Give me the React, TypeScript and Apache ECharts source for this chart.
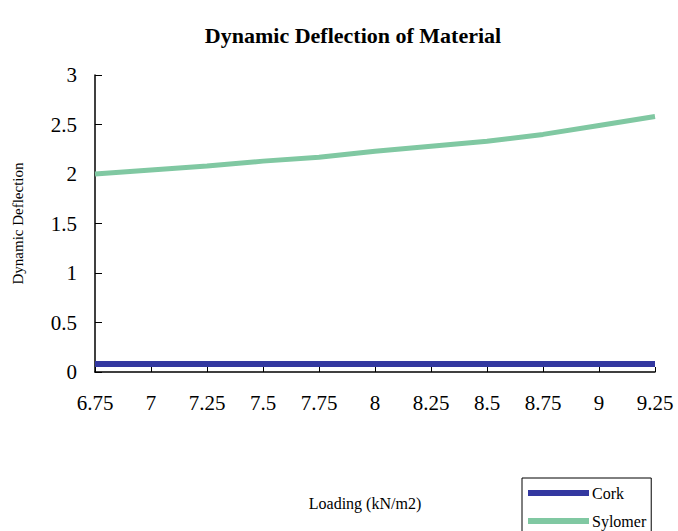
import React, { useEffect, useRef } from "react";
import * as echarts from "echarts";

const categories = ["6.75", "7", "7.25", "7.5", "7.75", "8", "8.25", "8.5", "8.75", "9", "9.25"];
const corkValues = [0.08, 0.08, 0.08, 0.08, 0.08, 0.08, 0.08, 0.08, 0.08, 0.08, 0.08];
const sylomerValues = [2.0, 2.04, 2.08, 2.13, 2.17, 2.23, 2.28, 2.33, 2.4, 2.49, 2.58];

const FONT = "'Liberation Serif', 'DejaVu Serif', serif";

export default function App() {
  const ref = useRef<HTMLDivElement>(null);
  useEffect(() => {
    if (!ref.current) return;
    const chart = echarts.init(ref.current, undefined, { renderer: "svg" });
    chart.setOption({
      animation: false,
      backgroundColor: "#ffffff",
      textStyle: { fontFamily: FONT },
      title: {
        text: "Dynamic Deflection of Material",
        left: 348,
        textAlign: "center",
        top: 19,
        textStyle: { fontFamily: FONT, fontSize: 22, fontWeight: "bold", color: "#000" },
      },
      grid: { left: 95, right: 23, top: 75, bottom: 159, containLabel: false },
      legend: {
        orient: "vertical",
        left: 522,
        top: 478,
        width: 130,
        height: 60,
        padding: [7, 5, 8, 6],
        itemGap: 12,
        itemWidth: 61,
        itemHeight: 6,
        borderColor: "#000",
        borderWidth: 1,
        icon: "rect",
        textStyle: { fontFamily: FONT, fontSize: 16, color: "#000", padding: [0, 0, 0, -2] },
        data: ["Cork", "Sylomer"],
      },
      xAxis: {
        type: "category",
        data: categories,
        boundaryGap: false,
        name: "Loading (kN/m2)",
        nameLocation: "middle",
        nameGap: 123,
        nameTextStyle: { fontFamily: FONT, fontSize: 16, color: "#000", padding: [0, 20, 0, 0] },
        axisLine: { lineStyle: { color: "#000", width: 1.5 } },
        axisTick: { inside: true, length: 5, alignWithLabel: true, lineStyle: { color: "#000" } },
        axisLabel: { fontFamily: FONT, fontSize: 21, color: "#000", margin: 20 },
        splitLine: { show: false },
      },
      yAxis: {
        type: "value",
        min: 0,
        max: 3,
        interval: 0.5,
        name: "Dynamic Deflection",
        nameLocation: "middle",
        nameGap: 70,
        nameRotate: 90,
        nameTextStyle: { fontFamily: FONT, fontSize: 15, color: "#000" },
        axisLine: { show: true, lineStyle: { color: "#000", width: 1.5 } },
        axisTick: { show: true, inside: true, length: 7, lineStyle: { color: "#000" } },
        axisLabel: { fontFamily: FONT, fontSize: 21, color: "#000", margin: 18, padding: [8, 0, 0, 0] },
        splitLine: { show: false },
      },
      series: [
        {
          name: "Cork",
          type: "line",
          data: corkValues,
          showSymbol: false,
          symbol: "none",
          lineStyle: { color: "#3338a0", width: 6 },
          itemStyle: { color: "#3338a0" },
          z: 3,
        },
        {
          name: "Sylomer",
          type: "line",
          data: sylomerValues,
          showSymbol: false,
          symbol: "none",
          lineStyle: { color: "#80c8a2", width: 5 },
          itemStyle: { color: "#80c8a2" },
          z: 2,
        },
      ],
    });
    return () => chart.dispose();
  }, []);
  return <div ref={ref} style={{ width: 678, height: 531, position: "absolute", left: 0, top: 0 }} />;
}
